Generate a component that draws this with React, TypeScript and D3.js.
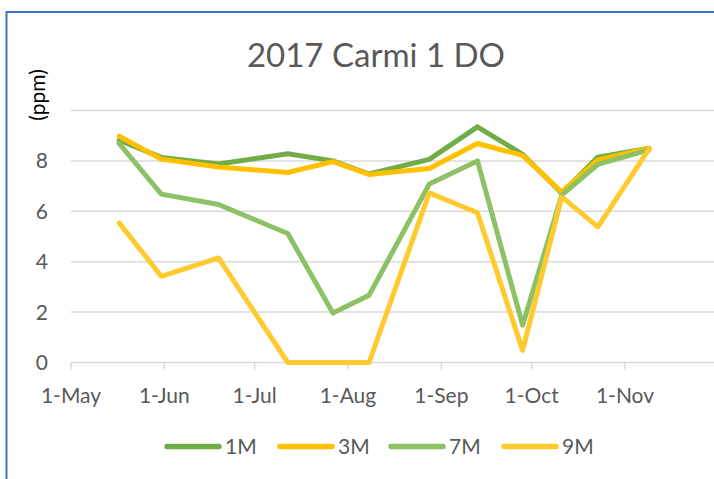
import React from "react";
import * as d3 from "d3";

const dates = [
  "2017-05-17", "2017-05-31", "2017-06-19", "2017-07-12", "2017-07-27", "2017-08-08",
  "2017-08-28", "2017-09-13", "2017-09-28", "2017-10-11", "2017-10-23", "2017-11-09",
];
const seriesNames = ["1M", "3M", "7M", "9M"];
const colors = ["#70AD47", "#FFC000", "#8DC165", "#FFCA2E"];
const values1M = [8.82, 8.14, 7.88, 8.28, 8.0, 7.48, 8.06, 9.35, 8.26, 6.72, 8.15, 8.5];
const values3M = [8.98, 8.07, 7.76, 7.54, 7.97, 7.46, 7.7, 8.69, 8.22, 6.76, 8.04, 8.5];
const values7M = [8.69, 6.68, 6.27, 5.12, 1.96, 2.67, 7.08, 8.0, 1.48, 6.64, 7.86, 8.44];
const values9M = [5.54, 3.42, 4.15, 0, 0, 0, 6.73, 5.94, 0.48, 6.57, 5.38, 8.48];
const yTicks = [0, 2, 4, 6, 8, 10];
const yLabels = [0, 2, 4, 6, 8];
const xTickDates = ["2017-05-01", "2017-06-01", "2017-07-01", "2017-08-01", "2017-09-01", "2017-10-01", "2017-11-01"];
const xTickLabels = ["1-May", "1-Jun", "1-Jul", "1-Aug", "1-Sep", "1-Oct", "1-Nov"];

const FONT = "Lato, 'Open Sans', sans-serif";
const TEXT = "#595959";

export default function App() {
  const parse = d3.utcParse("%Y-%m-%d");
  const x = d3
    .scaleUtc()
    .domain([parse("2017-05-01")!, parse("2017-12-01")!])
    .range([71, 715.3]);
  const y = d3.scaleLinear().domain([0, 10]).range([362.5, 110.5]);
  const allSeries = [values1M, values3M, values7M, values9M];
  const line = d3
    .line<number>()
    .x((_, i) => x(parse(dates[i])!))
    .y((v) => y(v));

  const legendX = [165, 278, 389, 502];

  return (
    <svg width={714} height={479} style={{ position: "absolute", left: 0, top: 0, background: "#fff" }}>
      <rect x={0} y={0} width={714} height={479} fill="#fff" />
      {/* border */}
      <line x1={6} x2={714} y1={12} y2={12} stroke="#4472C4" strokeWidth={2} />
      <line x1={6.5} x2={6.5} y1={11} y2={479} stroke="#4472C4" strokeWidth={2} />

      <text x={376} y={67} textAnchor="middle" fontFamily={FONT} fontSize={33} fill={TEXT}>
        2017 Carmi 1 DO
      </text>

      <text
        transform="translate(40,95) rotate(-90)"
        textAnchor="middle"
        dominantBaseline="middle"
        fontFamily={FONT}
        fontSize={21}
        fill="#000"
      >
        (ppm)
      </text>

      {/* gridlines */}
      {yTicks.map((t) => (
        <line key={t} x1={71} x2={714} y1={y(t)} y2={y(t)} stroke="#D9D9D9" strokeWidth={1.5} />
      ))}
      {/* x ticks */}
      {xTickDates.map((d) => (
        <line key={d} x1={x(parse(d)!)} x2={x(parse(d)!)} y1={y(0)} y2={y(0) + 7} stroke="#D9D9D9" strokeWidth={1.5} />
      ))}
      {yLabels.map((t) => (
        <text key={t} x={48} y={y(t) + 7.5} textAnchor="end" fontFamily={FONT} fontSize={21} fill={TEXT}>
          {t}
        </text>
      ))}
      {xTickDates.map((d, i) => (
        <text key={d} x={x(parse(d)!)} y={403} textAnchor="middle" fontFamily={FONT} fontSize={21} fill={TEXT}>
          {xTickLabels[i]}
        </text>
      ))}

      {allSeries.map((s, i) => (
        <path
          key={seriesNames[i]}
          d={line(s) || ""}
          fill="none"
          stroke={colors[i]}
          strokeWidth={5}
          strokeLinejoin="round"
          strokeLinecap="round"
        />
      ))}

      {seriesNames.map((n, i) => (
        <g key={n}>
          <line x1={legendX[i] + 2} x2={legendX[i] + 54} y1={446.5} y2={446.5} stroke={colors[i]} strokeWidth={5.5} strokeLinecap="round" />
          <text x={legendX[i] + 60} y={454} fontFamily={FONT} fontSize={21} fill={TEXT}>
            {n}
          </text>
        </g>
      ))}
    </svg>
  );
}
